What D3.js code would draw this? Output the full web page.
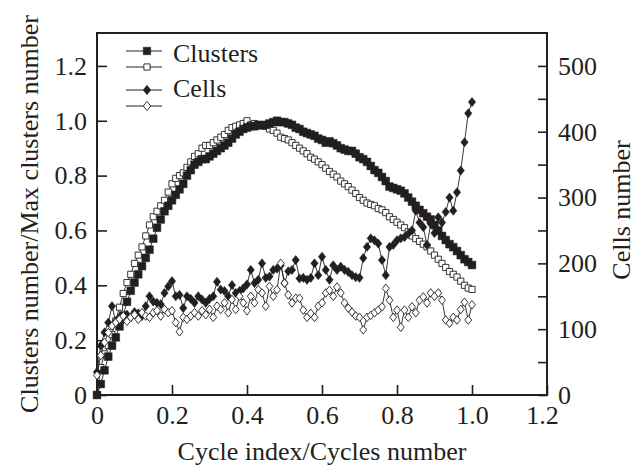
<!DOCTYPE html>
<html>
<head>
<meta charset="utf-8">
<script src="https://cdn.jsdelivr.net/npm/d3@7"></script>
<style>
  body { margin: 0; background: #fff; }
  text { font-family: "Liberation Serif", "Times New Roman", serif; fill: #231f20; }
</style>
</head>
<body>
<div id="chart"></div>
<script>
var cycleIndex = [0,0.01,0.02,0.03,0.04,0.05,0.06,0.07,0.08,0.09,0.1,0.11,0.12,0.13,0.14,0.15,0.16,0.17,0.18,0.19,0.2,
  0.21,0.22,0.23,0.24,0.25,0.26,0.27,0.28,0.29,0.3,0.31,0.32,0.33,0.34,0.35,0.36,0.37,0.38,0.39,0.4,
  0.41,0.42,0.43,0.44,0.45,0.46,0.47,0.48,0.49,0.5,0.51,0.52,0.53,0.54,0.55,0.56,0.57,0.58,0.59,0.6,
  0.61,0.62,0.63,0.64,0.65,0.66,0.67,0.68,0.69,0.7,0.71,0.72,0.73,0.74,0.75,0.76,0.77,0.78,0.79,0.8,
  0.81,0.82,0.83,0.84,0.85,0.86,0.87,0.88,0.89,0.9,0.91,0.92,0.93,0.94,0.95,0.96,0.97,0.98,0.99,1.0];

// clusters number / max clusters number (left axis)
var clustersFilled = [0,0.04,0.09,0.14,0.18,0.21,0.25,0.29,0.34,0.38,0.41,
  0.44,0.47,0.5,0.53,0.57,0.61,0.64,0.67,0.69,0.71,
  0.73,0.75,0.77,0.8,0.82,0.84,0.85,0.86,0.86,0.87,
  0.88,0.89,0.9,0.91,0.92,0.935,0.95,0.96,0.97,0.975,
  0.98,0.98,0.985,0.983,0.985,0.99,0.995,1.0,0.995,0.995,
  0.99,0.985,0.975,0.97,0.96,0.955,0.95,0.945,0.935,0.93,
  0.92,0.925,0.918,0.91,0.9,0.895,0.89,0.89,0.88,0.867,
  0.86,0.85,0.835,0.82,0.81,0.795,0.78,0.76,0.755,0.75,
  0.745,0.735,0.72,0.705,0.69,0.675,0.663,0.65,0.64,0.62,
  0.6,0.58,0.565,0.55,0.539,0.525,0.51,0.495,0.485,0.474];

var clustersOpen = [0,0.1,0.15,0.18,0.22,0.27,0.32,0.37,0.41,0.44,0.48,
  0.51,0.54,0.58,0.62,0.65,0.67,0.69,0.71,0.74,0.77,
  0.79,0.8,0.81,0.83,0.85,0.87,0.88,0.9,0.91,0.91,
  0.92,0.93,0.94,0.95,0.965,0.975,0.98,0.985,0.99,1.0,
  0.985,0.99,0.985,0.985,0.98,0.97,0.965,0.955,0.94,0.935,
  0.93,0.92,0.91,0.9,0.89,0.88,0.867,0.86,0.85,0.84,
  0.827,0.815,0.805,0.795,0.78,0.77,0.76,0.747,0.735,0.72,
  0.71,0.7,0.695,0.69,0.68,0.675,0.665,0.65,0.64,0.63,
  0.62,0.61,0.595,0.58,0.57,0.56,0.55,0.54,0.525,0.51,
  0.495,0.48,0.465,0.45,0.44,0.43,0.415,0.4,0.39,0.385];

// cells number (right axis)
var cellsFilled = [35,75,95,110,135,112,118,115,122,118,126,
  124,120,135,150,142,140,138,155,165,173,
  150,152,132,150,146,140,150,145,140,146,
  150,172,160,158,150,167,155,158,162,168,
  190,170,175,200,178,180,190,192,197,170,
  188,190,205,177,178,175,178,200,182,210,
  190,175,197,190,195,190,187,182,179,178,
  208,225,238,235,230,205,182,225,228,235,
  238,240,245,250,280,262,255,228,260,246,
  270,262,278,300,280,308,341,384,428,445];

var cellsOpen = [30,60,80,95,105,110,115,120,112,118,122,
  115,125,120,118,125,128,120,130,125,128,
  110,96,118,115,120,125,120,128,122,130,
  118,135,130,140,125,145,130,150,140,128,
  150,140,160,155,135,165,150,160,200,170,
  152,140,147,147,129,118,124,118,135,140,
  155,159,150,164,155,140,132,126,120,118,
  99,118,121,125,129,134,162,144,118,129,
  103,129,118,134,125,144,149,140,155,150,
  155,144,114,109,118,114,130,141,114,137];

var xTicks = [0, 0.2, 0.4, 0.6, 0.8, 1.0, 1.2];
var leftTicks = [0, 0.2, 0.4, 0.6, 0.8, 1.0, 1.2];
var rightTicks = [0, 50, 100, 150, 200, 250, 300, 350, 400, 450, 500];

var W = 636, H = 466;
var box = {left: 97, right: 547, top: 33, bottom: 395};
var ink = '#231f20';

var svg = d3.select('#chart').append('svg')
    .attr('width', W)
    .attr('height', H);

var x = d3.scaleLinear().domain([0, 1.2]).range([box.left, box.right]);
var yLeft = d3.scaleLinear().domain([0, 1.32]).range([box.bottom, box.top]);
var yRight = d3.scaleLinear().domain([0, 550]).range([box.bottom, box.top]);

var fmt = function(d) { return d === 0 ? '0' : d.toFixed(1); };

function styleAxis(g) {
    g.select('.domain').remove();
    g.selectAll('.tick line').attr('stroke', ink).attr('stroke-width', 1.6);
    g.selectAll('.tick text')
        .attr('fill', ink)
        .style('font-family', '"Liberation Serif", serif')
        .style('font-size', '26px');
}

var xAxis = svg.append('g')
    .attr('transform', 'translate(0,' + box.bottom + ')')
    .call(d3.axisBottom(x).tickValues(xTicks).tickFormat(fmt).tickSize(-10).tickPadding(11))
    .call(styleAxis);
// last x label sits a little left of its tick, clear of the right "0"
xAxis.selectAll('.tick text').filter(function(d) { return d === 1.2; }).attr('x', -5);

svg.append('g')
    .attr('transform', 'translate(' + box.left + ',0)')
    .call(d3.axisLeft(yLeft).tickValues(leftTicks).tickFormat(fmt).tickSize(-10).tickPadding(10))
    .call(styleAxis);

svg.append('g')
    .attr('transform', 'translate(' + box.right + ',0)')
    .call(d3.axisRight(yRight).tickValues(rightTicks)
        .tickFormat(function(d) { return d % 100 === 0 ? d : ''; })
        .tickSize(-9).tickPadding(11))
    .call(styleAxis);

svg.append('rect')
    .attr('x', box.left).attr('y', box.top)
    .attr('width', box.right - box.left).attr('height', box.bottom - box.top)
    .attr('fill', 'none').attr('stroke', ink).attr('stroke-width', 2);

// diamond a bit wider than d3's own
var diamond = {
    draw: function(ctx, size) {
        var h = Math.sqrt(size) * 0.62, w = h * 0.8;
        ctx.moveTo(0, -h); ctx.lineTo(w, 0); ctx.lineTo(0, h); ctx.lineTo(-w, 0); ctx.closePath();
    }
};

var series = [
    {values: clustersOpen, y: yLeft, shape: d3.symbolSquare, size: 38, filled: false},
    {values: clustersFilled, y: yLeft, shape: d3.symbolSquare, size: 60, filled: true},
    {values: cellsFilled, y: yRight, shape: diamond, size: 55, filled: true},
    {values: cellsOpen, y: yRight, shape: diamond, size: 48, filled: false}
];

var plot = svg.append('g');

series.forEach(function(s) {
    var pts = cycleIndex.map(function(c, i) { return [c, s.values[i]]; });
    var line = d3.line()
        .x(function(d) { return x(d[0]); })
        .y(function(d) { return s.y(d[1]); });
    plot.append('path')
        .datum(pts)
        .attr('fill', 'none')
        .attr('stroke', ink)
        .attr('stroke-width', 0.9)
        .attr('d', line);
    plot.selectAll(null)
        .data(pts)
        .enter().append('path')
        .attr('transform', function(d) { return 'translate(' + x(d[0]) + ',' + s.y(d[1]) + ')'; })
        .attr('d', d3.symbol().type(s.shape).size(s.size))
        .attr('fill', s.filled ? ink : '#fff')
        .attr('stroke', ink)
        .attr('stroke-width', s.filled ? 0.5 : 0.9);
});

// legend
var legendRows = [
    {y: 51, shape: d3.symbolSquare, size: 56, filled: true, label: 'Clusters'},
    {y: 67, shape: d3.symbolSquare, size: 38, filled: false, label: ''},
    {y: 90, shape: diamond, size: 60, filled: true, label: 'Cells'},
    {y: 106, shape: diamond, size: 55, filled: false, label: ''}
];
var legend = svg.append('g');
legendRows.forEach(function(r) {
    legend.append('line')
        .attr('x1', 126).attr('x2', 162).attr('y1', r.y).attr('y2', r.y)
        .attr('stroke', ink).attr('stroke-width', 1);
    legend.append('path')
        .attr('transform', 'translate(147,' + r.y + ')')
        .attr('d', d3.symbol().type(r.shape).size(r.size))
        .attr('fill', r.filled ? ink : '#fff')
        .attr('stroke', ink).attr('stroke-width', r.filled ? 0.5 : 0.9);
});
legend.append('text').attr('x', 173).attr('y', 62).style('font-size', '26px').text('Clusters');
legend.append('text').attr('x', 173).attr('y', 97).style('font-size', '26px').text('Cells');

// axis titles
svg.append('text')
    .attr('x', (box.left + box.right) / 2).attr('y', 460)
    .attr('text-anchor', 'middle').style('font-size', '26px')
    .text('Cycle index/Cycles number');

svg.append('text')
    .attr('transform', 'translate(38,214) rotate(-90)')
    .attr('text-anchor', 'middle').style('font-size', '26px')
    .text('Clusters number/Max clusters number');

svg.append('text')
    .attr('transform', 'translate(630,210) rotate(-90)')
    .attr('text-anchor', 'middle').style('font-size', '26px')
    .text('Cells number');
</script>
</body>
</html>
